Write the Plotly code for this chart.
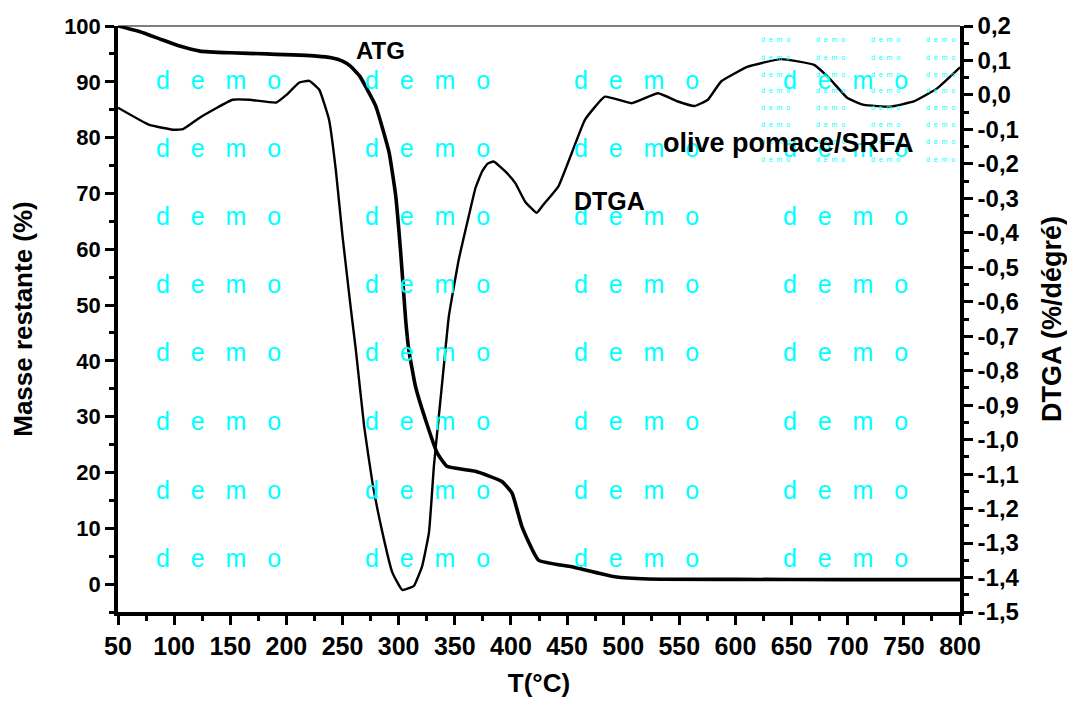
import plotly.graph_objects as go

# ---- data ----
T_atg = [50, 69, 87, 105, 123, 150, 182, 227, 240, 250, 257, 265, 279.5, 291.4, 297.4,
         301.8, 306.2, 309, 315, 324, 334.3, 343, 368.4, 392, 401, 409.8, 424.5, 454,
         492.6, 522, 600, 700, 800]
mass_atg = [100, 99, 97.7, 96.4, 95.5, 95.2, 95.0, 94.6, 94.3, 93.7, 92.8, 91.1, 85.7, 77.4, 69.5,
            59.4, 47.4, 42, 35.4, 29.4, 23.5, 21.1, 20.2, 18.4, 16.3, 10.3, 4.3, 3.1,
            1.3, 0.9, 0.85, 0.8, 0.8]

T_dtga = [50, 78, 100, 108, 122.8, 152, 167, 191, 200, 211.5, 220.4, 229.3, 238, 244, 250,
          257.4, 261.8, 269.2, 276.6, 285.5, 294.3, 303.2, 313.6, 321, 327, 331.4, 335.8,
          340.2, 344.7, 353.5, 362.4, 368.4, 374.3, 379, 384.6, 395, 403.9, 412.7, 423, 429,
          442.3, 454.1, 465.9, 483.7, 507.4, 531, 548.8, 563.6, 575.4, 587.2, 611, 640.5,
          670, 684.9, 699.7, 714.5, 738, 758.8, 779.6, 800]
dtga = [-0.037, -0.087, -0.101, -0.099, -0.066, -0.014, -0.014, -0.022, 0.0, 0.036, 0.041, 0.015,
        -0.072, -0.217, -0.41, -0.62, -0.738, -0.96, -1.124, -1.269, -1.385, -1.436, -1.424,
        -1.366, -1.269, -1.076, -0.931, -0.787, -0.642, -0.478, -0.352, -0.27, -0.222,
        -0.2, -0.193, -0.222, -0.256, -0.31, -0.342, -0.318, -0.265, -0.169, -0.072, -0.005,
        -0.024, 0.005, -0.019, -0.032, -0.014, 0.039, 0.082, 0.104, 0.087, 0.044, -0.009,
        -0.029, -0.034, -0.019, 0.019, 0.08]

x_ticks = [50, 100, 150, 200, 250, 300, 350, 400, 450, 500, 550, 600, 650, 700, 750, 800]
left_ticks = [0, 10, 20, 30, 40, 50, 60, 70, 80, 90, 100]
right_ticks = [0.2, 0.1, 0.0, -0.1, -0.2, -0.3, -0.4, -0.5, -0.6, -0.7, -0.8, -0.9,
               -1.0, -1.1, -1.2, -1.3, -1.4, -1.5]
right_tick_text = ["0,2", "0,1", "0,0", "-0,1", "-0,2", "-0,3", "-0,4", "-0,5", "-0,6",
                   "-0,7", "-0,8", "-0,9", "-1,0", "-1,1", "-1,2", "-1,3", "-1,4", "-1,5"]

FONT = "Liberation Sans, Arial, sans-serif"

fig = go.Figure()
fig.add_trace(go.Scatter(x=T_atg, y=mass_atg, mode="lines", name="ATG",
                         line=dict(color="black", width=3.6, shape="spline", smoothing=0.4),
                         yaxis="y"))
fig.add_trace(go.Scatter(x=T_dtga, y=dtga, mode="lines", name="DTGA",
                         line=dict(color="black", width=2.4, shape="spline", smoothing=0.35),
                         yaxis="y2"))

# page body has an 8 px margin; target plot area in window pixels
OFF = 8
L, R, TOP, BOT = 118, 960, 26, 612
W, H = 1075 - 2 * OFF, 710 - 2 * OFF
def px(x): return (x - L) / (R - L)
def py(y): return (BOT - y) / (BOT - TOP)

annotations = []
big_cols = [218, 427, 636, 845]
big_rows = [80, 148, 216, 284, 352, 421, 490, 558]
for r in big_rows:
    for c in big_cols:
        annotations.append(dict(x=px(c), y=py(r), xref="paper", yref="paper",
                                xanchor="center", yanchor="middle",
                                text="d\u00a0\u00a0\u00a0e\u00a0\u00a0\u00a0m\u00a0\u00a0\u00a0o",
                                showarrow=False,
                                font=dict(family=FONT, size=25, color="#00FFFF")))
small_cols = [775, 830, 885, 940]
small_rows = [39, 57, 74, 91, 108, 125, 142, 159]
for r in small_rows:
    for c in small_cols:
        annotations.append(dict(x=px(c), y=py(r), xref="paper", yref="paper",
                                xanchor="center", yanchor="middle",
                                text="d\u00a0\u00a0e\u00a0\u00a0m\u00a0\u00a0o", showarrow=False,
                                font=dict(family=FONT, size=7, color="#00FFFF")))

# curve labels
annotations += [
    dict(x=px(380), y=py(51), xref="paper", yref="paper", xanchor="center", yanchor="middle",
         text="ATG", showarrow=False,
         font=dict(family=FONT, size=24, color="black", weight="bold")),
    dict(x=px(609), y=py(201), xref="paper", yref="paper", xanchor="center", yanchor="middle",
         text="DTGA", showarrow=False,
         font=dict(family=FONT, size=25, color="black", weight="bold")),
    dict(x=px(788), y=py(143), xref="paper", yref="paper", xanchor="center", yanchor="middle",
         text="olive pomace/SRFA",
         showarrow=False, font=dict(family=FONT, size=27, color="black", weight="bold")),
]

fig.update_layout(
    width=W, height=H,
    margin=dict(l=L - OFF, r=W - (R - OFF), t=TOP - OFF, b=H - (BOT - OFF), autoexpand=False),
    paper_bgcolor="white", plot_bgcolor="white",
    showlegend=False,
    annotations=annotations,
    shapes=[dict(type="line", xref="paper", yref="paper", x0=0, x1=1, y0=1, y1=1,
                 line=dict(color="black", width=1.2))],
    xaxis=dict(range=[50, 800], tickvals=x_ticks, showgrid=False, zeroline=False,
               automargin=False,
               showline=True, linecolor="black", linewidth=3.5,
               ticks="outside", ticklen=9, tickwidth=3, tickcolor="black",
               minor=dict(ticks="outside", ticklen=5, tickwidth=3, dtick=25, tickcolor="black"),
               tickfont=dict(family=FONT, size=25, color="black", weight="bold"),
               title=dict(text="T(°C)", standoff=16,
                          font=dict(family=FONT, size=26, color="black", weight="bold"))),
    yaxis=dict(range=[-5, 100], tickvals=left_ticks, showgrid=False, zeroline=False,
               automargin=False,
               showline=True, linecolor="black", linewidth=3.5,
               ticks="outside", ticklen=9, tickwidth=3, tickcolor="black",
               minor=dict(ticks="outside", ticklen=5, tickwidth=3, dtick=5, tickcolor="black"),
               tickfont=dict(family=FONT, size=22, color="black", weight="bold"),
               title=dict(text="Masse restante (%)", standoff=26,
                          font=dict(family=FONT, size=26, color="black", weight="bold"))),
    yaxis2=dict(range=[-1.5, 0.2], overlaying="y", side="right", tickvals=right_ticks,
                ticktext=right_tick_text, showgrid=False, zeroline=False,
                automargin=False,
                showline=True, linecolor="black", linewidth=3.5,
                ticks="outside", ticklen=9, tickwidth=3, tickcolor="black",
                minor=dict(ticks="outside", ticklen=5, tickwidth=3, dtick=0.05, tickcolor="black"),
                tickfont=dict(family=FONT, size=24, color="black", weight="bold"),
                title=dict(text="DTGA (%/dégré)", standoff=30,
                           font=dict(family=FONT, size=27, color="black", weight="bold"))),
)

fig.write_html("out.html")
